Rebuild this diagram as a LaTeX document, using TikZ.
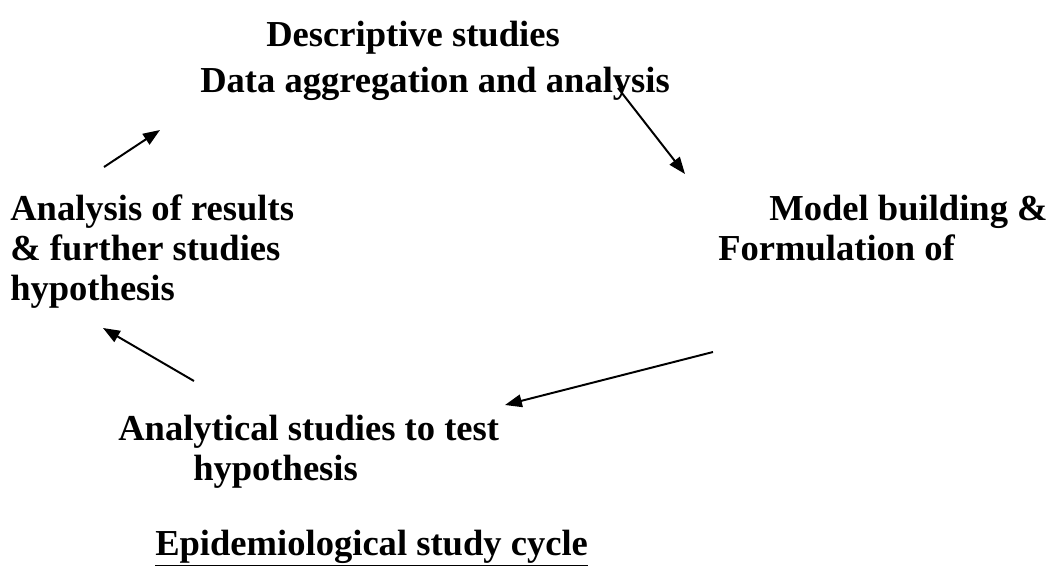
\documentclass[tikz,border=0pt]{standalone}
\usepackage{fontspec}
\setmainfont{Liberation Serif}
\usetikzlibrary{arrows.meta}
\tikzset{
  txt/.style={anchor=base west, inner sep=0pt, font=\fontsize{26}{30}\selectfont\bfseries},
  arr/.style={line width=1.4pt, -{Triangle[length=12pt,width=9pt]}}
}
\begin{document}
\begin{tikzpicture}[x=0.025cm,y=-0.025cm]
\useasboundingbox (0,0) rectangle (1054,568);
% Estudios descriptivos
\node[txt] (desc) at (266,46) {Descriptive studies};
\node[txt] (data) at (200,92) {Data aggregation and analysis};
% Modelo
\node[txt] (model) at (769,220) {Model building \&};
\node[txt] (formul) at (718,260) {Formulation of};
% Estudios analiticos
\node[txt] (analyt) at (118,440) {Analytical studies to test};
\node[txt] (hypo) at (193,480) {hypothesis};
% Resultados
\node[txt] (res) at (10,220) {Analysis of results};
\node[txt] (further) at (10,260) {\& further studies};
\node[txt] (hyporig) at (10,300) {hypothesis};
% Titulo
\node[txt] (title) at (155,555) {\underline{Epidemiological study cycle}};
% Extremos de las flechas
\coordinate (a1) at (104,167);
\coordinate (b1) at (160,130);
\coordinate (a2) at (618,88);
\coordinate (b2) at (685,174);
\coordinate (a3) at (713,352);
\coordinate (b3) at (505,405);
\coordinate (a4) at (194,381);
\coordinate (b4) at (103,328);
% Flechas
\draw[arr] (a1) -- (b1);
\draw[arr] (a2) -- (b2);
\draw[arr] (a3) -- (b3);
\draw[arr] (a4) -- (b4);
\end{tikzpicture}
\end{document}
